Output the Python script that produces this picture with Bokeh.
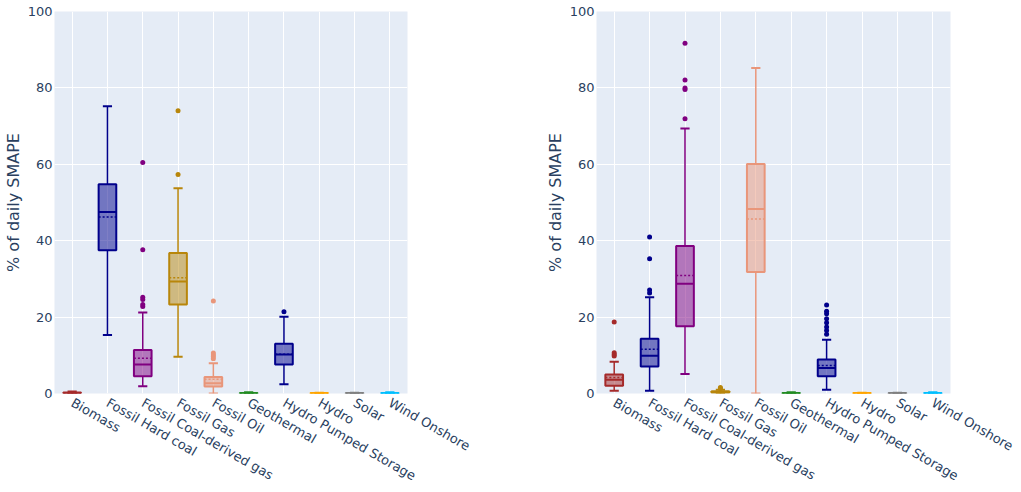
import math
from bokeh.plotting import figure
from bokeh.layouts import row
from bokeh.models import ColumnDataSource, FactorRange, Range1d, FixedTicker
from bokeh.transform import dodge
from bokeh.embed import file_html
from bokeh.resources import INLINE

categories = ["Biomass", "Fossil Hard coal", "Fossil Coal-derived gas", "Fossil Gas",
              "Fossil Oil", "Geothermal", "Hydro Pumped Storage", "Hydro", "Solar",
              "Wind Onshore"]
colors = ["#a52a2a", "#00008b", "#800080", "#b8860b", "#e9967a",
          "#228b22", "#00008b", "#ffa500", "#808080", "#00bfff"]

# Left panel statistics
left_lower = [0.0, 15.3, 1.9, 9.6, 0.0, 0.0, 2.4, 0.0, 0.0, 0.0]
left_q1 = [0.05, 37.5, 4.5, 23.3, 1.8, 0.0, 7.6, 0.0, 0.0, 0.0]
left_median = [0.1, 47.5, 7.6, 29.3, 2.7, 0.05, 10.2, 0.05, 0.05, 0.05]
left_mean = [0.15, 46.2, 9.2, 30.3, 3.7, 0.05, 10.3, 0.05, 0.05, 0.05]
left_q3 = [0.25, 54.8, 11.4, 36.8, 4.3, 0.1, 13.0, 0.1, 0.1, 0.1]
left_upper = [0.5, 75.2, 21.2, 53.7, 7.9, 0.3, 20.1, 0.2, 0.2, 0.3]
left_out_cats = ["Fossil Coal-derived gas"] * 6 + ["Fossil Gas"] * 2 + ["Fossil Oil"] * 5 + ["Hydro Pumped Storage"]
left_out_vals = [60.5, 37.6, 25.2, 24.6, 23.3, 22.8, 74.0, 57.3, 24.2, 10.6, 10.1, 9.6, 9.1, 21.4]

# Right panel statistics
right_lower = [0.7, 0.7, 5.1, 0.0, 0.0, 0.0, 1.0, 0.0, 0.0, 0.0]
right_q1 = [2.0, 7.1, 17.6, 0.2, 31.8, 0.0, 4.5, 0.0, 0.0, 0.0]
right_median = [3.6, 9.9, 28.7, 0.4, 48.3, 0.05, 6.7, 0.05, 0.05, 0.05]
right_mean = [4.2, 11.6, 30.9, 0.45, 45.7, 0.05, 7.3, 0.05, 0.05, 0.05]
right_q3 = [5.0, 14.3, 38.6, 0.6, 60.1, 0.1, 8.9, 0.1, 0.1, 0.1]
right_upper = [8.3, 25.2, 69.4, 1.0, 85.2, 0.3, 14.1, 0.2, 0.2, 0.3]
right_out_cats = (["Biomass"] * 4 + ["Fossil Hard coal"] * 4 + ["Fossil Coal-derived gas"] * 5
                  + ["Fossil Gas"] * 2 + ["Hydro Pumped Storage"] * 8)
right_out_vals = [18.7, 10.7, 10.2, 9.8, 41.0, 35.3, 27.1, 26.3, 91.7, 82.1, 80.0, 79.6, 71.9,
                  1.3, 1.6, 23.2, 21.5, 20.9, 19.6, 18.5, 17.4, 16.5, 15.5]

y_ticks = [0, 20, 40, 60, 80, 100]

FONT = "DejaVu Sans"
TXT = "#2a3f5f"


def make_panel(lower, q1, med, mean, q3, upper, out_cats, out_vals, width, left_b, right_b):
    p = figure(x_range=FactorRange(*categories), y_range=Range1d(0, 100),
               width=width, height=492, output_backend="svg", toolbar_location=None,
               min_border_left=left_b, min_border_right=right_b,
               min_border_top=11, min_border_bottom=10)
    p.background_fill_color = "#e5ecf6"
    p.border_fill_color = "white"
    p.outline_line_color = None
    p.xgrid.grid_line_color = "white"
    p.ygrid.grid_line_color = "white"
    p.xgrid.grid_line_width = 1
    p.ygrid.grid_line_width = 1
    for ax in (p.xaxis[0], p.yaxis[0]):
        ax.axis_line_color = None
        ax.major_tick_line_color = None
        ax.minor_tick_line_color = None
        ax.major_tick_out = 0
        ax.major_tick_in = 0
        ax.major_label_text_font = FONT
        ax.major_label_text_font_size = "13px"
        ax.major_label_text_color = TXT
    yax = p.yaxis[0]
    yax.ticker = FixedTicker(ticks=y_ticks)
    yax.major_label_standoff = 2
    yax.axis_label = "% of daily SMAPE"
    yax.axis_label_text_font = FONT
    yax.axis_label_text_font_size = "16px"
    yax.axis_label_text_font_style = "normal"
    yax.axis_label_text_color = TXT
    yax.axis_label_standoff = 2
    xax = p.xaxis[0]
    xax.major_label_orientation = -math.pi / 6
    xax.major_label_standoff = 8
    xax.axis_label_standoff = 0

    src = ColumnDataSource(dict(cat=categories, color=colors, lower=lower, q1=q1,
                                med=med, mean=mean, q3=q3, upper=upper))
    xr = p.x_range
    # whiskers
    p.segment(x0="cat", y0="q3", x1="cat", y1="upper", source=src, line_color="color", line_width=1.5)
    p.segment(x0="cat", y0="q1", x1="cat", y1="lower", source=src, line_color="color", line_width=1.5)
    p.segment(x0=dodge("cat", -0.13, range=xr), y0="upper", x1=dodge("cat", 0.13, range=xr), y1="upper",
              source=src, line_color="color", line_width=2)
    p.segment(x0=dodge("cat", -0.13, range=xr), y0="lower", x1=dodge("cat", 0.13, range=xr), y1="lower",
              source=src, line_color="color", line_width=2)
    # boxes
    p.vbar(x="cat", bottom="q1", top="q3", width=0.5, source=src, fill_color="color",
           fill_alpha=0.5, line_color="color", line_width=2)
    # median & mean
    p.segment(x0=dodge("cat", -0.25, range=xr), y0="med", x1=dodge("cat", 0.25, range=xr), y1="med",
              source=src, line_color="color", line_width=2)
    p.segment(x0=dodge("cat", -0.25, range=xr), y0="mean", x1=dodge("cat", 0.25, range=xr), y1="mean",
              source=src, line_color="color", line_width=1.5, line_dash="2 2")
    # outliers
    cmap = dict(zip(categories, colors))
    osrc = ColumnDataSource(dict(cat=out_cats, val=out_vals, color=[cmap[c] for c in out_cats]))
    p.scatter(x="cat", y="val", source=osrc, size=5, color="color", line_width=0)
    return p


p1 = make_panel(left_lower, left_q1, left_median, left_mean, left_q3, left_upper,
                left_out_cats, left_out_vals, 542, 46, 135)
p2 = make_panel(right_lower, right_q1, right_median, right_mean, right_q3, right_upper,
                right_out_cats, right_out_vals, 478, 46, 70)

layout = row(p1, p2, spacing=0)
open("out.html", "w").write(file_html(layout, INLINE))
